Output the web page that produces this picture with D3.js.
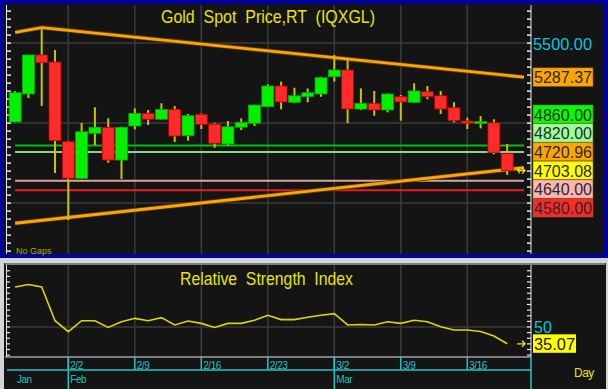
<!DOCTYPE html>
<html lang="en">
<head>
<meta charset="UTF-8">
<title>Gold Spot Price</title>
<script src="https://d3js.org/d3.v7.min.js"></script>
<style>
  body { margin: 0; background: #d4d4d4; }
  svg { display: block; font-family: "Liberation Sans", Arial, sans-serif; }
</style>
</head>
<body>
<script>
// daily bars, 1/27 .. 3/19
const dates = ["1/27","1/28","1/29","1/30","2/2","2/3","2/4","2/5","2/6","2/9","2/10","2/11","2/12","2/13",
  "2/16","2/17","2/18","2/19","2/20","2/23","2/24","2/25","2/26","2/27","3/2","3/3","3/4","3/5","3/6",
  "3/9","3/10","3/11","3/12","3/13","3/16","3/17","3/18","3/19"];
const opens  = [5007,5182,5426,5382,4884,4655,4936,4974,4769,4982,5061,5024,5086,4921,5055,4994,4869,4974,4999,
  5102,5232,5130,5165,5182,5290,5332,5088,5124,5082,5165,5130,5196,5171,5096,5013,4999,5002,4811];
const highs  = [5200,5426,5586,5457,4890,5001,5099,5030,4978,5092,5082,5124,5107,5057,5060,5002,5013,5030,5115,
  5242,5259,5221,5217,5290,5426,5394,5217,5201,5185,5176,5249,5232,5201,5130,5034,5044,5024,4869];
const lows   = [5005,5157,5107,4688,4394,4650,4863,4752,4651,4961,4988,5020,4882,4890,4963,4846,4859,4957,4982,
  5100,5086,5124,5130,5165,5259,4999,5082,5046,5067,5015,5125,5149,5057,5005,4963,4967,4805,4676];
const closes = [5190,5426,5377,4890,4655,4946,4974,4769,4974,5061,5024,5086,4919,5046,4992,4874,4977,5005,5113,
  5232,5132,5171,5190,5284,5332,5088,5124,5082,5182,5132,5201,5165,5088,5015,4999,5009,4817,4703.08];
const rsi = [85.6,87.8,85.6,55.6,45.8,55.6,55.6,49.6,54.7,57.7,55.6,58.3,51.8,55.3,53.2,49.6,53.2,53.2,56.0,
  60.4,56.6,56.6,58.7,60.4,61.9,51.8,52.2,51.8,54.7,53.2,56.0,54.7,50.3,47.3,47.3,46.0,42.0,35.07];

// trendlines as [bar index, price]
const upperTrend = [[0, 5567], [2, 5597], [38.26, 5287.37]];
const lowerTrend = [[0, 4374], [38.26, 4720.96]];
const levels = [4860, 4820, 4640, 4580];
const levelColors = ["#00c000", "#86d886", "#d8a4a4", "#e81c1c"];

// right side price flags
const flagValues = [4860, 4820, 4720.96, 4703.08, 4640, 4580];
const flagColors = ["#00ff00", "#98ff98", "#ffa500", "#ffff00", "#ffb4b4", "#ff2828"];

const weekTicks = [4, 9, 14, 19, 24, 29, 34];
const months = [{ name: "Jan", i: 0 }, { name: "Feb", i: 4 }, { name: "Mar", i: 24 }];

const W = 608, H = 389;
const svg = d3.select("body").append("svg").attr("width", W).attr("height", H);

const x = d3.scaleLinear().domain([0, 37]).range([15.1, 507.2]);
const y = d3.scaleLinear().domain([4640, 5500]).range([180.7, 43.1]);
const yr = d3.scaleLinear().domain([0, 100]).range([383.25, 270.75]);

const axisX = 531;
const grid = "#3a3a3a";

// ---------- price panel ----------
svg.append("rect").attr("x", 2).attr("y", 2).attr("width", 604).attr("height", 254)
  .attr("fill", "#141414").attr("stroke", "#00009c").attr("stroke-width", 4);

const price = svg.append("g");

// grid
price.selectAll(".vg").data(weekTicks).enter().append("line")
  .attr("x1", d => x(d)).attr("x2", d => x(d)).attr("y1", 5).attr("y2", 254)
  .attr("stroke", grid).attr("stroke-width", 1.5);
price.selectAll(".hg").data([4500, 5000, 5500]).enter().append("line")
  .attr("x1", 8).attr("x2", axisX).attr("y1", d => y(d)).attr("y2", d => y(d))
  .attr("stroke", grid).attr("stroke-width", 1.5);

// axes ticks (left & right)
const pTicks = d3.range(4200, 5751, 50).filter(v => y(v) > 6 && y(v) < 253);
price.append("line").attr("x1", 6.5).attr("x2", 6.5).attr("y1", 5).attr("y2", 254).attr("stroke", "#e8e8e8");
price.selectAll(".lt").data(pTicks).enter().append("line")
  .attr("x1", 6).attr("x2", 11).attr("y1", d => y(d)).attr("y2", d => y(d))
  .attr("stroke", "#e8e8e8").attr("stroke-width", 1.5);
price.append("line").attr("x1", axisX).attr("x2", axisX).attr("y1", 5).attr("y2", 254).attr("stroke", "#e8e8e8");
price.selectAll(".rt").data(pTicks).enter().append("line")
  .attr("x1", axisX - 4).attr("x2", axisX).attr("y1", d => y(d)).attr("y2", d => y(d))
  .attr("stroke", "#e8e8e8").attr("stroke-width", 1.5);

// horizontal levels
price.selectAll(".lvl").data(levels).enter().append("line")
  .attr("x1", x(0)).attr("x2", x(38.26)).attr("y1", d => y(d)).attr("y2", d => y(d))
  .attr("stroke", (d, i) => levelColors[i]).attr("stroke-width", 2);

// trendlines
const tl = d3.line().x(d => x(d[0])).y(d => y(d[1]));
[upperTrend, lowerTrend].forEach(t => {
  price.append("path").attr("d", tl(t)).attr("fill", "none").attr("stroke", "#5a3a00").attr("stroke-width", 4.5);
  price.append("path").attr("d", tl(t)).attr("fill", "none").attr("stroke", "#ffa500").attr("stroke-width", 2.8);
});

// candles
const bars = dates.map((d, i) => ({ i, o: opens[i], h: highs[i], l: lows[i], c: closes[i] }));
const candle = price.selectAll(".c").data(bars).enter().append("g");
candle.append("line")
  .attr("x1", d => x(d.i)).attr("x2", d => x(d.i)).attr("y1", d => y(d.h)).attr("y2", d => y(d.l))
  .attr("stroke", "#c8c400").attr("stroke-width", 2);
candle.append("rect")
  .attr("x", d => x(d.i) - 6).attr("width", 12)
  .attr("y", d => y(Math.max(d.o, d.c)))
  .attr("height", d => Math.max(2, Math.abs(y(d.o) - y(d.c))))
  .attr("fill", d => d.c >= d.o ? "#00f000" : "#ff2a2a")
  .attr("stroke", d => d.c >= d.o ? "#00a800" : "#b80000").attr("stroke-width", 0.8);

// last price marker
const lastY = y(closes[closes.length - 1]);
price.append("path").attr("d", `M517,${lastY}h8M522,${lastY - 3}l3,3l-3,3M519,${lastY - 3}v6`)
  .attr("stroke", "#e8e800").attr("stroke-width", 1.3).attr("fill", "none");

// titles
svg.append("text").attr("x", 161).attr("y", 23)
  .attr("fill", "#e6e600").attr("font-size", 19)
  .attr("textLength", 214).attr("lengthAdjust", "spacingAndGlyphs")
  .text("Gold  Spot  Price,RT  (IQXGL)").attr("xml:space", "preserve").style("white-space", "pre");
svg.append("text").attr("x", 16).attr("y", 254).attr("fill", "#a8a800").attr("font-size", 9)
  .text("No Gaps");

// right labels
svg.append("text").attr("x", 533).attr("y", 50).attr("fill", "#00c8dc").attr("font-size", 17)
  .attr("textLength", 59).attr("lengthAdjust", "spacingAndGlyphs").text("5500.00");
const flag = (val, top, color) => {
  svg.append("rect").attr("x", 533).attr("y", top).attr("width", 60).attr("height", 18.5)
    .attr("fill", color).attr("stroke", "#806000").attr("stroke-width", 0.6);
  svg.append("text").attr("x", 534).attr("y", top + 15.5).attr("fill", "#2a2a2a").attr("font-size", 17)
    .attr("textLength", 58).attr("lengthAdjust", "spacingAndGlyphs").text(val.toFixed(2));
};
flag(5287.37, y(5287.37) - 9.25, "#ffa500");
const stackTop = 105;
flagValues.forEach((v, i) => flag(v, stackTop + i * 18.7, flagColors[i]));

// ---------- RSI panel ----------
svg.append("rect").attr("x", 4).attr("y", 263).attr("width", 602).attr("height", 126).attr("fill", "#141414");
const rp = svg.append("g");
rp.selectAll(".vg").data(weekTicks).enter().append("line")
  .attr("x1", d => x(d)).attr("x2", d => x(d)).attr("y1", 265).attr("y2", 357)
  .attr("stroke", grid).attr("stroke-width", 1.5);
rp.append("line").attr("x1", 8).attr("x2", axisX).attr("y1", yr(50)).attr("y2", yr(50))
  .attr("stroke", grid).attr("stroke-width", 1.5);

const rTicks = d3.range(25, 106, 5).filter(v => yr(v) > 266 && yr(v) < 356);
rp.append("line").attr("x1", 6.5).attr("x2", 6.5).attr("y1", 265).attr("y2", 357).attr("stroke", "#e8e8e8");
rp.selectAll(".lt").data(rTicks).enter().append("line")
  .attr("x1", 6).attr("x2", 10).attr("y1", d => yr(d)).attr("y2", d => yr(d))
  .attr("stroke", "#e8e8e8").attr("stroke-width", 1.2);
rp.append("line").attr("x1", axisX).attr("x2", axisX).attr("y1", 265).attr("y2", 357).attr("stroke", "#e8e8e8");
rp.selectAll(".rt").data(rTicks).enter().append("line")
  .attr("x1", axisX - 4).attr("x2", axisX).attr("y1", d => yr(d)).attr("y2", d => yr(d))
  .attr("stroke", "#e8e8e8").attr("stroke-width", 1.2);
rp.append("line").attr("x1", 5).attr("x2", axisX).attr("y1", 357).attr("y2", 357)
  .attr("stroke", "#a0a0a0").attr("stroke-width", 1.5);
rp.append("line").attr("x1", 5).attr("x2", 605).attr("y1", 264).attr("y2", 264)
  .attr("stroke", "#a0a0a0").attr("stroke-width", 1.5);

rp.append("path").datum(rsi)
  .attr("d", d3.line().x((d, i) => x(i)).y(d => yr(d)))
  .attr("fill", "none").attr("stroke", "#d8d800").attr("stroke-width", 1.6);

const lastR = yr(rsi[rsi.length - 1]);
rp.append("path").attr("d", `M517,${lastR}h8M522,${lastR - 3}l3,3l-3,3`)
  .attr("stroke", "#e8e800").attr("stroke-width", 1.3).attr("fill", "none");

svg.append("text").attr("x", 180).attr("y", 285)
  .attr("fill", "#e6e600").attr("font-size", 19)
  .attr("textLength", 173).attr("lengthAdjust", "spacingAndGlyphs")
  .text("Relative  Strength  Index").style("white-space", "pre");
svg.append("text").attr("x", 534).attr("y", yr(50) + 6).attr("fill", "#00c8dc").attr("font-size", 16)
  .text("50");
svg.append("rect").attr("x", 533).attr("y", lastR - 9.5).attr("width", 43).attr("height", 18.5).attr("fill", "#ffff00");
svg.append("text").attr("x", 534).attr("y", lastR + 6).attr("fill", "#1a1a1a").attr("font-size", 17)
  .attr("textLength", 41).attr("lengthAdjust", "spacingAndGlyphs")
  .text(rsi[rsi.length - 1].toFixed(2));

// ---------- date axis ----------
const cyan = "#22c4c4";
const ax = svg.append("g");
ax.append("line").attr("x1", 7).attr("x2", axisX).attr("y1", 370).attr("y2", 370).attr("stroke", cyan).attr("stroke-width", 1.5);
ax.append("line").attr("x1", axisX).attr("x2", axisX).attr("y1", 357).attr("y2", 389).attr("stroke", cyan).attr("stroke-width", 1.5);
ax.selectAll(".wk").data(weekTicks).enter().append("line")
  .attr("x1", d => x(d)).attr("x2", d => x(d)).attr("y1", 357).attr("y2", 370)
  .attr("stroke", cyan).attr("stroke-width", 1.5);
ax.selectAll(".wl").data(weekTicks).enter().append("text")
  .attr("x", d => x(d) + 2).attr("y", 369).attr("fill", cyan).attr("font-size", 10)
  .attr("letter-spacing", -0.5).text(d => dates[d]);
ax.selectAll(".mk").data(months.filter(m => m.i > 0)).enter().append("line")
  .attr("x1", d => x(d.i)).attr("x2", d => x(d.i)).attr("y1", 357).attr("y2", 389)
  .attr("stroke", cyan).attr("stroke-width", 1.5);
ax.selectAll(".ml").data(months).enter().append("text")
  .attr("x", d => d.i > 0 ? x(d.i) + 2 : 17).attr("y", 383).attr("fill", cyan).attr("font-size", 10)
  .attr("letter-spacing", -0.5).text(d => d.name);
ax.append("text").attr("x", 574).attr("y", 377).attr("fill", "#e6e600").attr("font-size", 12)
  .attr("letter-spacing", -0.5).text("Day");
</script>
</body>
</html>
